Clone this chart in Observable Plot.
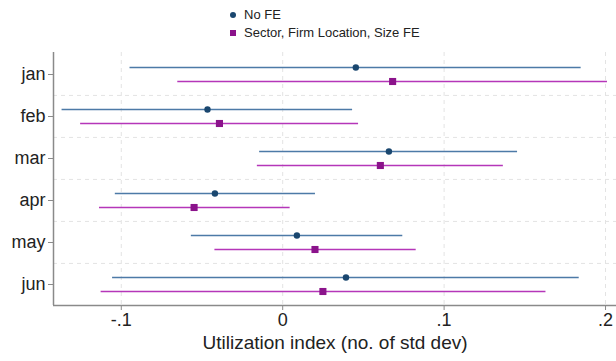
<!DOCTYPE html>
<html>
<head>
<meta charset="utf-8">
<script src="https://cdn.jsdelivr.net/npm/d3@7"></script>
<script src="https://cdn.jsdelivr.net/npm/@observablehq/plot@0.6"></script>
<style>
  html, body { margin: 0; padding: 0; background: #fff; }
  body { width: 616px; height: 361px; overflow: hidden; font-family: "Liberation Sans", Arial, sans-serif; }
  #legend { position: relative; width: 616px; height: 44px; }
  .lg { position: absolute; left: 244px; font-size: 13px; color: #222; line-height: 16px; }
  .sym { position: absolute; }
  svg { display: block; }
</style>
</head>
<body>
<div id="legend"></div>
<div id="chart"></div>
<script>
const months = ["jan", "feb", "mar", "apr", "may", "jun"];
const seriesNames = ["No FE", "Sector, Firm Location, Size FE"];
// No FE
const noFE_est = [0.0453, -0.0466, 0.0658, -0.0420, 0.0088, 0.0392];
const noFE_lo  = [-0.0946, -0.1367, -0.0143, -0.1037, -0.0566, -0.1054];
const noFE_hi  = [0.1849, 0.0433, 0.1455, 0.0203, 0.0744, 0.1837];
// Sector, Firm Location, Size FE
const fe_est = [0.0681, -0.0392, 0.0605, -0.0549, 0.0200, 0.0249];
const fe_lo  = [-0.0650, -0.1252, -0.0157, -0.1135, -0.0420, -0.1125];
const fe_hi  = [0.2012, 0.0470, 0.1367, 0.0046, 0.0827, 0.1631];
const xTicks = [-0.1, 0, 0.1, 0.2];
const xTickLabels = ["-.1", "0", ".1", ".2"];
const xDomain = [-0.142, 0.2068];

const blueLine = "#4d7aa7", blueDot = "#1a476f";
const magLine = "#b536b9", magDot = "#8b138b";

const rowsA = months.map((m, i) => ({month: m, est: noFE_est[i], lo: noFE_lo[i], hi: noFE_hi[i]}));
const rowsB = months.map((m, i) => ({month: m, est: fe_est[i], lo: fe_lo[i], hi: fe_hi[i]}));

// legend
const legend = document.getElementById("legend");
legend.innerHTML = `
  <div class="sym" style="left:230px;top:12px;width:6px;height:6px;border-radius:50%;background:${blueDot}"></div>
  <div class="lg" style="top:7px">${seriesNames[0]}</div>
  <div class="sym" style="left:230px;top:30px;width:6px;height:6px;background:${magDot}"></div>
  <div class="lg" style="top:25px">${seriesNames[1]}</div>`;

const H = 317, mT = 8, mB = 56;
const bw = (H - mT - mB) / months.length;
const off = 7;

const chart = Plot.plot({
  width: 616,
  height: H,
  marginLeft: 53,
  marginRight: 0,
  marginTop: mT,
  marginBottom: mB,
  style: {fontFamily: "Liberation Sans, Arial, sans-serif", color: "#222", background: "#fff"},
  x: {domain: xDomain, label: null},
  y: {type: "band", domain: months, padding: 0, label: null},
  marks: [
    // gridlines
    Plot.ruleX(xTicks, {stroke: "#e3e3e3", strokeWidth: 1, strokeDasharray: "4,4"}),
    Plot.ruleY(months.slice(1), {dy: -bw / 2, stroke: "#e3e3e3", strokeWidth: 1, strokeDasharray: "4,4"}),
    // axes lines
    Plot.ruleX([xDomain[0]], {stroke: "#8a8a8a", strokeWidth: 1.5}),
    Plot.ruleY([months[months.length - 1]], {dy: bw / 2, stroke: "#8a8a8a", strokeWidth: 1.5}),
    Plot.axisY({tickSize: 5, tickPadding: 3, fontSize: 18, stroke: "#8a8a8a", label: null}),
    Plot.axisX({ticks: xTicks, tickFormat: (d) => xTickLabels[xTicks.indexOf(d)], tickSize: 5, tickPadding: 3, fontSize: 18, stroke: "#8a8a8a", label: null}),
    Plot.text(["Utilization index (no. of std dev)"], {frameAnchor: "bottom", dy: 43, fontSize: 19, fill: "#222"}),
    // CIs
    Plot.ruleY(rowsA, {y: "month", x1: "lo", x2: "hi", dy: -off, stroke: blueLine, strokeWidth: 1.6}),
    Plot.ruleY(rowsB, {y: "month", x1: "lo", x2: "hi", dy: off, stroke: magLine, strokeWidth: 1.6}),
    Plot.dot(rowsA, {y: "month", x: "est", dy: -off, r: 3.2, fill: blueDot, stroke: "none"}),
    Plot.dot(rowsB, {y: "month", x: "est", dy: off, r: 4, symbol: "square", fill: magDot, stroke: "none"})
  ]
});
document.getElementById("chart").appendChild(chart);
</script>
</body>
</html>
